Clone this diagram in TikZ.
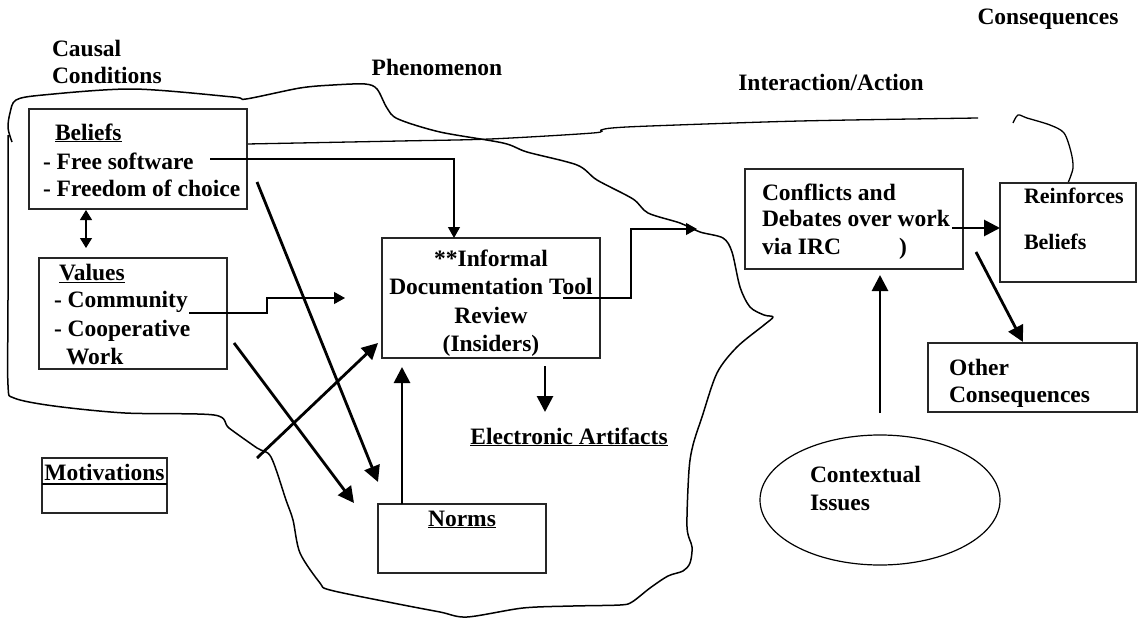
\documentclass[tikz,border=0pt]{standalone}
\usepackage{fontspec}
\setmainfont{Liberation Serif}
\usetikzlibrary{arrows.meta,shapes.geometric}
\begin{document}
\begin{tikzpicture}[x=1pt,y=-1pt,
  every node/.style={font=\fontsize{23.5}{28}\selectfont\bfseries, inner sep=0pt, outer sep=0pt},
  box/.style={draw=black!85, line width=1.2pt, anchor=north west, inner sep=0pt},
  lbl/.style={anchor=base west},
  lblc/.style={anchor=base},
  small/.style={font=\fontsize{22}{26}\selectfont\bfseries},
  thinarr/.style={line width=1.2pt, -{Triangle[length=11pt,width=12pt]}},
  thickarr/.style={line width=2.8pt, -{Triangle[length=16pt,width=16pt]}},
  dblarr/.style={line width=1.2pt, {Triangle[length=10pt,width=12pt]}-{Triangle[length=10pt,width=12pt]}},
  blob/.style={line width=1.5pt, line join=round}
]
\useasboundingbox (0,0) rectangle (1138,618);

% ---------- boundary blob ----------
\draw[blob] plot[smooth, tension=0.5] coordinates {
 (12,142) (8,128) (10,113) (16,100) (43,95) (133,89) (233,97) (246,99) (300,88) (333,85)
 (365,84) (377,89) (387,108) (398,119) (440,132) (503,143) (527,152) (577,165) (597,180)
 (633,199) (648,213) (680,223) (700,232) (723,238) (732,252) (740,287) (750,307) (764,315)
 (773,317) (764,325) (737,347) (717,373) (702,417) (693,445) (689,470) (687,527) (692,547)
 (690,563) (683,571) (668,576) (650,588) (632,602) (620,605) (573,606) (523,608) (467,617)
 (440,612) (393,603) (330,590) (320,583) (300,553) (293,520) (286,500) (271,457) (257,448)
 (229,428) (214,415) (125,413) (54,406) (14,398) (8,385) (8,300) (8,135)};

% ---------- top long line and hook ----------
\draw[line width=1.3pt] plot[smooth] coordinates {(247,144) (400,141) (490,139) (593,133) (601,130) (612,128) (650,126) (800,121) (978,118)};
\draw[line width=1.3pt] plot[smooth, tension=0.5] coordinates {(1013,123) (1018,115) (1027,118) (1050,125) (1064,133) (1071,152) (1073,168) (1068,183)};

% ---------- headings ----------
\node[lbl] (tcausal) at (52,57) {Causal};
\node[lbl] (tcond) at (52,84) {Conditions};
\node[lblc] (tphen) at (437,76) {Phenomenon};
\node[lblc] (tint) at (831,90) {Interaction/Action};
\node[lblc] (tcons) at (1048,25) {Consequences};

% ---------- boxes ----------
\node[box, minimum width=218pt, minimum height=100pt] (beliefs) at (29,109) {};
\node[box, minimum width=188pt, minimum height=111pt] (values) at (39,258) {};
\node[box, minimum width=218pt, minimum height=120pt] (inf) at (382,238) {};
\node[box, minimum width=168pt, minimum height=69pt] (norms) at (378,504) {};
\node[box, minimum width=125pt, minimum height=55pt] (motiv) at (42,458) {};
\node[box, minimum width=218pt, minimum height=100pt] (conf) at (745,169) {};
\node[box, minimum width=136pt, minimum height=99pt] (reinf) at (1000,183) {};
\node[box, minimum width=209pt, minimum height=69pt] (other) at (928,343) {};
\node[draw=black, line width=1.2pt, ellipse, minimum width=240pt, minimum height=130pt] (ctx) at (880,500) {};

% ---------- box texts ----------
\node[lbl] (tbel) at (55,140) {\underline{Beliefs}};
\node[lbl] (tfree) at (43,169) {- Free software};
\node[lbl] (tfreed) at (43,196) {- Freedom of choice};

\node[lbl] (tval) at (59,280) {\underline{Values}};
\node[lbl] (tcom) at (54,307) {- Community};
\node[lbl] (tcoop) at (54,336) {- Cooperative};
\node[lbl] (twork) at (66,364) {Work};

\node[lblc] (tinf1) at (491,266) {**Informal};
\node[lblc] (tinf2) at (491,294) {Documentation Tool};
\node[lblc] (tinf3) at (491,323) {Review};
\node[lblc] (tinf4) at (491,351) {(Insiders)};

\node[lblc] (telec) at (569,444) {\underline{Electronic Artifacts}};
\node[lblc] (tnorms) at (462,526) {\underline{Norms}};

\node[lblc] (tmot) at (104.5,480) {Motivations};
\coordinate (mdl) at (42,484);
\coordinate (mdr) at (167,484);
\draw[line width=2pt] (mdl) -- (mdr);

\node[lbl] (tconf1) at (762,200) {Conflicts and};
\node[lbl] (tconf2) at (762,226) {Debates over work};
\node[lbl] (tconf3) at (762,254) {via IRC};
\node[lbl] (tparen) at (899,254) {)};

\node[lbl, small] (trein1) at (1024,203) {Reinforces};
\node[lbl, small] (trein2) at (1024,249) {Beliefs};

\begin{scope}
  \clip (928,343) rectangle (1137,411);
  \node[lbl] (toth1) at (949,375) {Other};
  \node[lbl] (toth2) at (949,402) {Consequences};
\end{scope}

\node[lbl] (tctx1) at (810,482) {Contextual};
\node[lbl] (tctx2) at (810,510) {Issues};

% ---------- connectors ----------
\coordinate (bv1) at (86,210);
\coordinate (bv2) at (86,248);
\draw[dblarr] (bv1) -- (bv2);

\coordinate (fs) at (210,159);
\coordinate (fsc) at (454,159);
\draw[thinarr] (fs) -- (fsc) -- (fsc |- inf.north);

\coordinate (cm) at (189,313);
\coordinate (cm1) at (267,313);
\coordinate (cm2) at (267,298);
\coordinate (cmt) at (345,298);
\draw[thinarr] (cm) -- (cm1) -- (cm2) -- (cmt);

\coordinate (fc) at (257,182);
\coordinate (fct) at (378,482);
\draw[thickarr] (fc) -- (fct);

\coordinate (cw) at (234,343);
\coordinate (cwt) at (354,503);
\draw[thickarr] (cw) -- (cwt);

\coordinate (mt) at (257,458);
\coordinate (mtt) at (378,343);
\draw[thickarr] (mt) -- (mtt);

\coordinate (nn) at (402,504);
\coordinate (nnt) at (402,367);
\draw[thickarr] (nn) -- (nnt);

\coordinate (ie) at (545,366);
\coordinate (iet) at (545,412);
\draw[thickarr] (ie) -- (iet);

\coordinate (ic) at (563,298);
\coordinate (ic1) at (631,298);
\coordinate (ic2) at (631,229);
\coordinate (ict) at (697,229);
\draw[thinarr] (ic) -- (ic1) -- (ic2) -- (ict);

\coordinate (cr) at (952,228);
\draw[thickarr] (cr) -- (cr -| reinf.west);

\coordinate (co) at (976,252);
\coordinate (cot) at (1023,342);
\draw[thickarr] (co) -- (cot);

\coordinate (xc) at (880,413);
\coordinate (xct) at (880,275);
\draw[thickarr] (xc) -- (xct);
\end{tikzpicture}
\end{document}
